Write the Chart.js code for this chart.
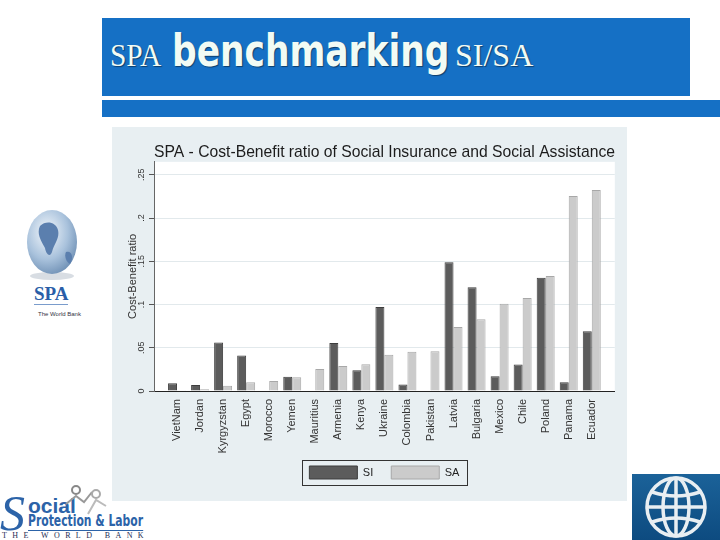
<!DOCTYPE html>
<html>
<head>
<meta charset="utf-8">
<script src="https://cdn.jsdelivr.net/npm/chart.js@4.4.0/dist/chart.umd.min.js"></script>
<style>
  body { margin: 0; width: 720px; height: 540px; background: #fff; position: relative; overflow: hidden; font-family: 'Liberation Sans', Arial, sans-serif; }
  .head { position: absolute; left: 102px; top: 18px; width: 588px; height: 78px; background: #1570c5; }
  .strip { position: absolute; left: 102px; top: 100px; width: 618px; height: 17px; background: #1570c5; }
  .ht { position: absolute; white-space: nowrap; color: #f2fbf4; text-shadow: 1px 1px 1px rgba(0,0,0,0.45); transform-origin: left top; }
  .ht.s { font-family: 'Liberation Serif', serif; font-size: 32px; line-height: 32px; top: 39px; }
  .ht.b { font-family: 'DejaVu Sans Condensed', 'DejaVu Sans', sans-serif; font-weight: bold; font-size: 44px; line-height: 44px; top: 29px; left: 172px; transform: scaleX(0.87); }
  .panel { position: absolute; left: 112px; top: 127px; width: 515px; height: 374px; background: #e8eff2; }
  #wrap { position: absolute; left: 113px; top: 127px; width: 515px; height: 373px; }
  .spa { position: absolute; left: 34px; top: 284px; font-family: 'Liberation Serif', serif; font-weight: bold; font-size: 19px; color: #2a5ea8; border-bottom: 1px solid #7a9ccc; line-height: 20px; }
  .wb { position: absolute; left: 38px; top: 311px; font-size: 6px; color: #334; }
  .sp1 { position: absolute; left: 0px; top: 488px; font-family: 'Liberation Serif', serif; font-size: 50px; color: #2c63a8; font-style: italic; line-height: 50px; }
  .sp2 { position: absolute; left: 28px; top: 495px; font-size: 21px; font-weight: bold; color: #2c63a8; line-height: 22px; }
  .sp3 { position: absolute; left: 28px; top: 513px; font-family: 'DejaVu Sans Condensed', sans-serif; font-size: 15px; font-weight: bold; color: #2c63a8; line-height: 17px; border-bottom: 1px solid #2c63a8; transform: scaleX(0.8); transform-origin: left top; }
  .sp4 { position: absolute; left: 2px; top: 531px; font-family: 'Liberation Serif', serif; font-size: 8px; letter-spacing: 5.4px; color: #1d2d55; line-height: 9px; }
  .wbsq { position: absolute; left: 632px; top: 474px; width: 88px; height: 66px; background: linear-gradient(#1b6299, #0d4b80); }
</style>
</head>
<body>
<div class="head"></div>
<div class="strip"></div>
<div class="ht s" style="left:110px;transform:scaleX(0.92)">SPA</div>
<div class="ht b">benchmarking</div>
<div class="ht s" style="left:455px">SI/SA</div>

<svg style="position:absolute;left:20px;top:204px" width="64" height="80">
  <defs>
    <radialGradient id="g1" cx="0.4" cy="0.35" r="0.7">
      <stop offset="0" stop-color="#f4f8fc"/>
      <stop offset="0.6" stop-color="#a9c2dc"/>
      <stop offset="1" stop-color="#6e8fb4"/>
    </radialGradient>
  </defs>
  <ellipse cx="32" cy="72" rx="22" ry="4" fill="#d8dde3"/>
  <ellipse cx="32" cy="38" rx="25" ry="32" fill="url(#g1)"/>
  <path d="M20 22 C26 16 36 18 38 26 C40 34 34 40 32 48 C30 54 26 50 25 44 C22 38 16 30 20 22 Z" fill="#5b7fae"/>
  <path d="M46 48 C52 46 54 54 50 60 C46 58 44 52 46 48 Z" fill="#5b7fae"/>
</svg>
<div class="spa">SPA</div>
<div class="wb">The World Bank</div>

<div class="panel"></div>
<div id="wrap"><canvas id="myChart" width="515" height="373"></canvas></div>

<div class="sp1">S</div>
<div class="sp2">ocial</div>
<div class="sp3">Protection &amp; Labor</div>
<div class="sp4">THE WORLD BANK</div>
<svg style="position:absolute;left:62px;top:484px" width="50" height="32">
  <circle cx="14" cy="6" r="4" fill="none" stroke="#888" stroke-width="2"/>
  <path d="M4 20 L14 12 L22 18 L30 8" fill="none" stroke="#999" stroke-width="2"/>
  <circle cx="34" cy="10" r="4" fill="none" stroke="#aaa" stroke-width="2"/>
  <path d="M26 30 L34 16 L44 22" fill="none" stroke="#bbb" stroke-width="2"/>
</svg>

<div class="wbsq"></div>
<svg style="position:absolute;left:642px;top:474px" width="70" height="66">
  <g fill="none" stroke="#e8eef2" stroke-width="3.5">
    <circle cx="34" cy="33" r="29"/>
    <ellipse cx="34" cy="33" rx="13" ry="29"/>
    <line x1="34" y1="4" x2="34" y2="62"/>
    <line x1="5" y1="33" x2="63" y2="33"/>
    <path d="M10 18 Q34 26 58 18"/>
    <path d="M10 48 Q34 40 58 48"/>
  </g>
</svg>

<script>
// datos
const countries = ['VietNam', 'Jordan', 'Kyrgyzstan', 'Egypt', 'Morocco', 'Yemen', 'Mauritius', 'Armenia', 'Kenya', 'Ukraine',
  'Colombia', 'Pakistan', 'Latvia', 'Bulgaria', 'Mexico', 'Chile', 'Poland', 'Panama', 'Ecuador']
const siValues = [0.009, 0.007, 0.056, 0.041, null, 0.0165, null, 0.0555, 0.024, 0.097,
  0.0075, null, 0.149, 0.120, 0.017, 0.0305, 0.131, 0.010, 0.069]
const saValues = [0.001, 0.002, 0.006, 0.010, 0.0115, 0.016, 0.0255, 0.029, 0.031, 0.042,
  0.0455, 0.046, 0.074, 0.083, 0.101, 0.1075, 0.133, 0.2255, 0.2325]
const yTicks = [0, 0.05, 0.1, 0.15, 0.2, 0.25]
const yTickLabels = ['0', '.05', '.1', '.15', '.2', '.25']

// espacio vacio a cada lado, como en el original
const labels = ['', ...countries, '']
const pad = ( arr ) => [null, ...arr, null]

// fondo blanco del area del grafico, etiquetas del eje y y caja de la leyenda
const extras = {
  id: 'extras',
  beforeDraw: ( chart ) => {
    const { ctx, chartArea } = chart
    ctx.save()
    ctx.fillStyle = '#ffffff'
    ctx.fillRect( chartArea.left, chartArea.top, chartArea.right - chartArea.left, chartArea.bottom - chartArea.top )
    ctx.restore()
  },
  afterLayout: ( chart ) => {
    // centrar la leyenda bajo el area del grafico y subirla un poco
    const lg = chart.legend
    const shift = ( chart.chartArea.left + chart.chartArea.right ) / 2 - ( lg.left + lg.right ) / 2
    lg.left += shift
    lg.right += shift
    lg.top -= 9
    lg.bottom -= 9
  },
  afterDraw: ( chart ) => {
    const { ctx, chartArea } = chart
    const y = chart.scales.y
    ctx.save()
    ctx.fillStyle = '#333'
    ctx.font = '9px "Liberation Sans", Arial, sans-serif'
    ctx.textAlign = 'center'
    ctx.textBaseline = 'middle'
    yTicks.forEach( ( v, i ) => {
      ctx.save()
      ctx.translate( chartArea.left - 12, y.getPixelForValue( v ) )
      ctx.rotate( -Math.PI / 2 )
      ctx.fillText( yTickLabels[i], 0, 0 )
      ctx.restore()
    } )
    const boxes = chart.legend.legendHitBoxes
    if ( boxes && boxes.length ) {
      const l = Math.min( ...boxes.map( b => b.left ) ) - 7
      const r = Math.max( ...boxes.map( b => b.left + b.width ) ) + 8
      const t = boxes[0].top - 6
      const b = boxes[0].top + boxes[0].height + 6
      ctx.strokeStyle = '#333'
      ctx.lineWidth = 1
      ctx.strokeRect( Math.round( l ) + 0.5, Math.round( t ) + 0.5, Math.round( r - l ), Math.round( b - t ) )
    }
    ctx.restore()
  }
}

const myChart = document.getElementById( 'myChart' )
new Chart( myChart, {
  type: 'bar',
  data: {
    labels: labels,
    datasets: [{
      label: 'SI',
      data: pad( siValues ),
      backgroundColor: '#5c5c5c',
      borderColor: '#3d3d3d',
      borderWidth: 1
    }, {
      label: 'SA',
      data: pad( saValues ),
      backgroundColor: '#cbcbcb',
      borderColor: '#a8a8a8',
      borderWidth: 1
    }]
  },
  plugins: [extras],
  options: {
    responsive: false,
    devicePixelRatio: 1,
    animation: false,
    categoryPercentage: 0.78,
    barPercentage: 1,
    layout: { padding: { left: 0, right: 13, top: 0, bottom: 2 } },
    plugins: {
      title: {
        display: true,
        text: 'SPA - Cost-Benefit ratio of Social Insurance and Social Assistance',
        align: 'end',
        color: '#1c1c1c',
        font: { family: '"Liberation Sans", Arial, sans-serif', size: 15.7, weight: 'normal' },
        padding: { top: 16, bottom: 0 }
      },
      legend: {
        position: 'bottom',
        labels: {
          boxWidth: 48,
          boxHeight: 13,
          padding: 18,
          color: '#222',
          font: { family: '"Liberation Sans", Arial, sans-serif', size: 11 }
        }
      },
      tooltip: { enabled: false }
    },
    scales: {
      x: {
        offset: false,
        grid: { display: false },
        border: { color: '#222', width: 1 },
        ticks: {
          autoSkip: false,
          minRotation: 90,
          maxRotation: 90,
          padding: 0,
          color: '#333',
          font: { family: '"Liberation Sans", Arial, sans-serif', size: 11 }
        },
        afterFit: ( scale ) => { scale.height = 66 }
      },
      y: {
        min: 0,
        max: 0.265,
        afterBuildTicks: ( scale ) => { scale.ticks = yTicks.map( v => ( { value: v } ) ) },
        grid: { color: '#e2e9ec', tickColor: '#555', tickLength: 5, drawTicks: true },
        border: { color: '#666', width: 1 },
        ticks: { display: false },
        title: {
          display: true,
          text: 'Cost-Benefit ratio',
          color: '#333',
          font: { family: '"Liberation Sans", Arial, sans-serif', size: 11 },
          padding: { top: 13, bottom: 0 }
        },
        afterFit: ( scale ) => { scale.width = 41 }
      }
    }
  }
} )
</script>
</body>
</html>
